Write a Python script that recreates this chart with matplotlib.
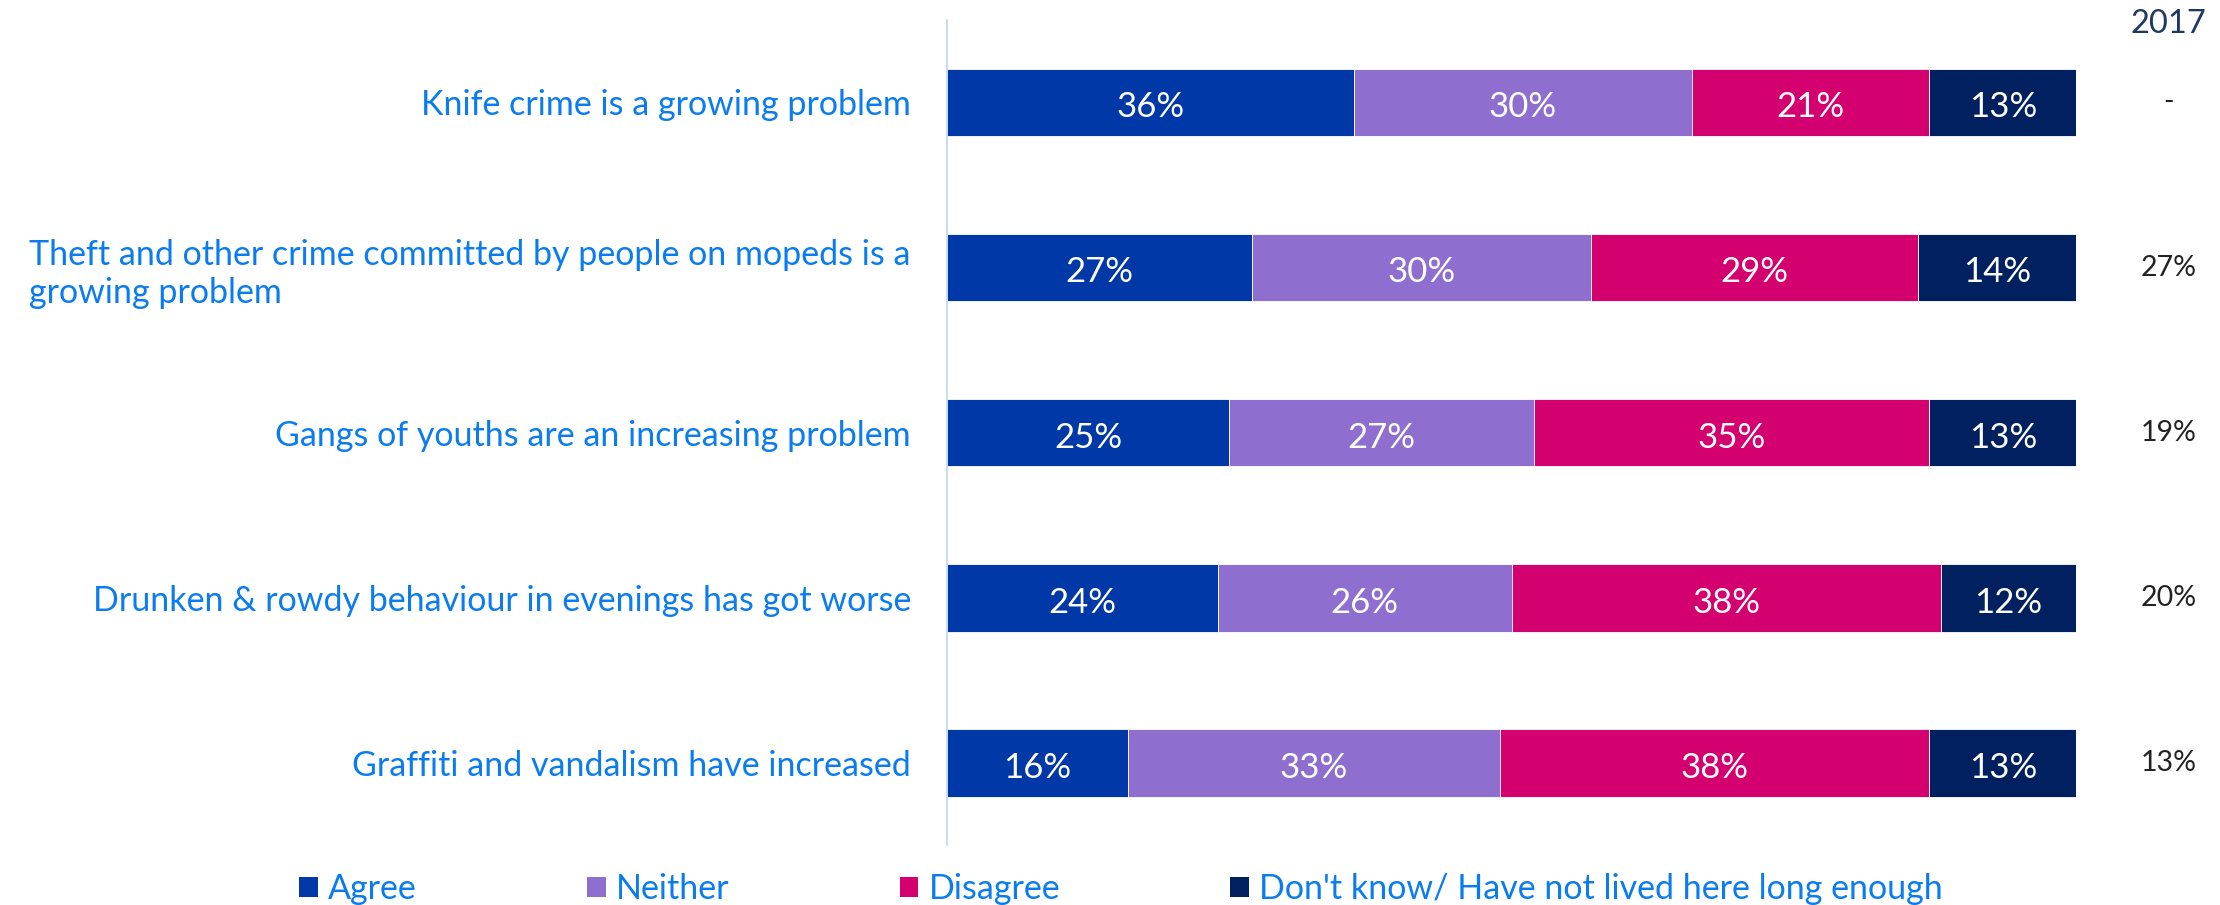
import matplotlib.pyplot as plt
from matplotlib.patches import Patch

plt.rcParams['font.family'] = ['Lato', 'DejaVu Sans']

statements = [
    "Knife crime is a growing problem",
    "Theft and other crime committed by people on mopeds is a\ngrowing problem",
    "Gangs of youths are an increasing problem",
    "Drunken & rowdy behaviour in evenings has got worse",
    "Graffiti and vandalism have increased",
]
agree = [36, 27, 25, 24, 16]
neither = [30, 30, 27, 26, 33]
disagree = [21, 29, 35, 38, 38]
dont_know = [13, 14, 13, 12, 13]
prev_2017 = ["-", "27%", "19%", "20%", "13%"]

series = [agree, neither, disagree, dont_know]
names = ["Agree", "Neither", "Disagree", "Don't know/ Have not lived here long enough"]
colors = ["#0038A8", "#8E6FD0", "#D4006F", "#002060"]
label_blue = "#0A7CF0"

fig = plt.figure(figsize=(22.2, 9.05), dpi=100)
ax = fig.add_axes([0.4266, 0.066, 0.5086, 0.912])

y = list(range(len(statements)))
left = [0] * len(statements)
for vals, c in zip(series, colors):
    bars = ax.barh(y, vals, left=left, height=0.41, color=c,
                   edgecolor="white", linewidth=0.6)
    for b, v in zip(bars, vals):
        ax.text(b.get_x() + b.get_width() / 2, b.get_y() + b.get_height() / 2 + 0.03,
                f"{v}%", ha="center", va="center", color="white", fontsize=25)
    left = [l + v for l, v in zip(left, vals)]

ax.set_xlim(0, 100)
ax.set_ylim(4.5, -0.5)
ax.set_xticks([])
ax.set_yticks(y)
ax.set_yticklabels(statements, fontsize=24.5, color=label_blue, linespacing=1.25)
for t in ax.get_yticklabels():
    t.set_multialignment("left")
ax.tick_params(axis="y", length=0, pad=26)
for s in ["top", "right", "bottom"]:
    ax.spines[s].set_visible(False)
ax.spines["left"].set_color("#BDD7EE")
ax.spines["left"].set_linewidth(1.2)

# 2017 comparison column
fig.text(0.9766, 0.99, "2017", ha="center", va="top", fontsize=23.5,
         color="#1F3864")
for yi, v in zip(y, prev_2017):
    ax.text(108.2, yi, v, ha="center", va="center", fontsize=20.5, color="#222222",
            clip_on=False)

handles = [Patch(facecolor=c, edgecolor="none") for c in colors]
leg = fig.legend(handles, names, loc="lower left", bbox_to_anchor=(0.121, -0.034),
                 ncol=4, frameon=False, fontsize=24.5, handlelength=0.55,
                 handleheight=0.55, handletextpad=0.3, columnspacing=5.0)
for t in leg.get_texts():
    t.set_color(label_blue)

fig.savefig("out.png", dpi=100)
